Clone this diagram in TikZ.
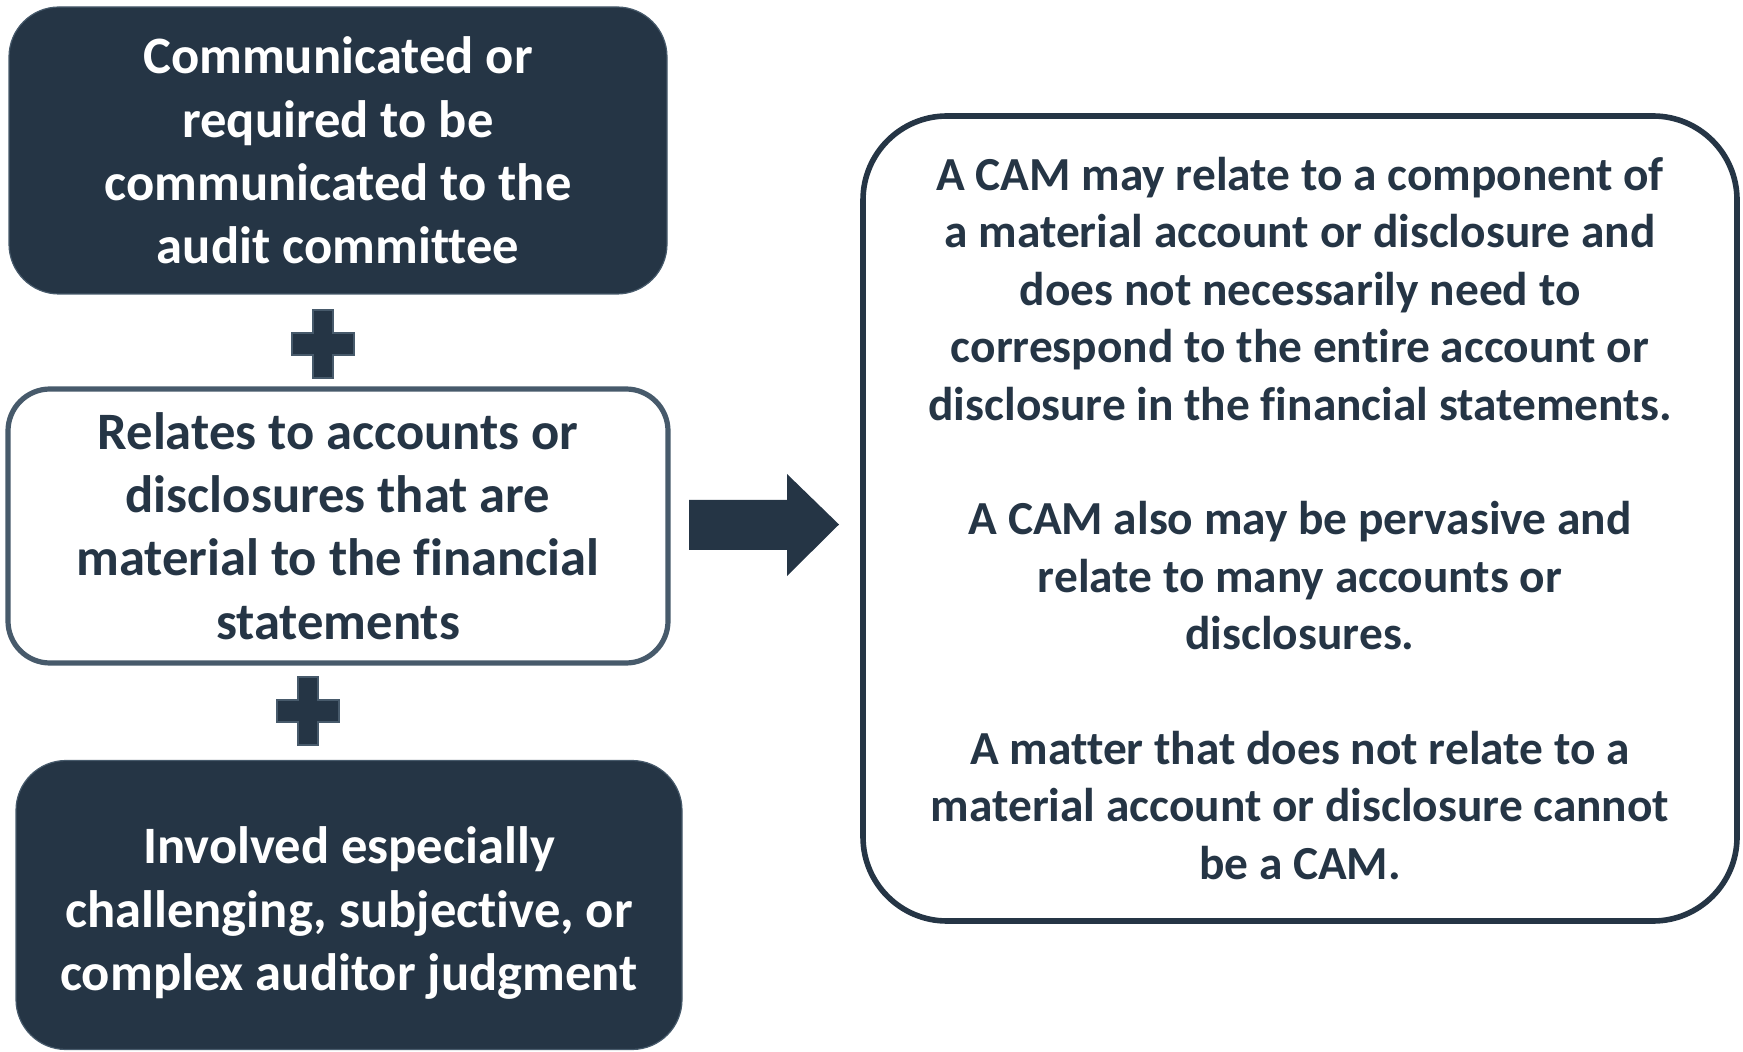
\documentclass[tikz,border=0pt]{standalone}
\usepackage{fontspec}
\setmainfont{Carlito}[Ligatures={NoCommon}]
\definecolor{navy}{HTML}{253545}
\definecolor{slate}{HTML}{475A6B}
\tikzset{
  darkbox/.style={rounded corners=25pt, fill=navy, draw=slate, line width=0.6pt,
    text=white, font=\fontsize{26.3}{31.7}\selectfont\bfseries, align=center, inner sep=0pt},
  lightbox/.style={rounded corners=21pt, fill=white, draw=slate, line width=2.6pt,
    text=navy, font=\fontsize{26.3}{31.7}\selectfont\bfseries, align=center, inner sep=0pt},
  bigbox/.style={rounded corners=42pt, fill=white, draw=navy, line width=2.8pt,
    text=navy, font=\fontsize{23.7}{28.7}\selectfont\bfseries, align=center, inner sep=0pt},
  boxtext/.style={text=white, font=\fontsize{26.3}{31.7}\selectfont\bfseries, align=center, inner sep=0pt},
  plussign/.style={fill=navy, draw=slate, line width=0.6pt},
  blockarrow/.style={fill=navy}
}
\begin{document}
\begin{tikzpicture}[x=0.5pt,y=-0.5pt]
\useasboundingbox (0,0) rectangle (1743,1052);
% boxes
\node[darkbox, minimum width=329pt, minimum height=143.5pt] (b1) at (338,150.5)
  {Communicated or\\required to be\\communicated to the\\audit committee};
\node[lightbox, minimum width=330pt, minimum height=137pt] (b2) at (338,526)
  {Relates to accounts or\\disclosures that are\\material to the financial\\statements};
\node[darkbox, minimum width=333pt, minimum height=144.5pt] (b3) at (349,905) {};
\node[boxtext] (b3t) at (349,913)
  {Involved especially\\challenging, subjective, or\\complex auditor judgment};
\node[bigbox, minimum width=437pt, minimum height=402.5pt] (b4) at (1300,518.5)
  {A CAM may relate to a component of\\a material account or disclosure and\\does not necessarily need to\\correspond to the entire account or\\disclosure in the financial statements.\\[28.7pt]A CAM also may be pervasive and\\relate to many accounts or\\disclosures.\\[28.7pt]A matter that does not relate to a\\material account or disclosure cannot\\be a CAM.};
% plus signs
\coordinate (p1) at (323,344);
\coordinate (p2) at (308,711);
\foreach \p in {p1,p2}{
  \draw[plussign] (\p) ++(-10,-34) -- ++(20,0) -- ++(0,23) -- ++(21,0) -- ++(0,22)
    -- ++(-21,0) -- ++(0,23) -- ++(-20,0) -- ++(0,-23) -- ++(-21,0) -- ++(0,-22)
    -- ++(21,0) -- cycle;
}
% block arrow
\coordinate (a0) at (689,524.5);
\fill[blockarrow] (a0) ++(0,-24.5) -- ++(98,0) -- ++(0,-26) -- ++(52,50.5)
  -- ++(-52,51.5) -- ++(0,-26) -- ++(-98,0) -- cycle;
\end{tikzpicture}
\end{document}
